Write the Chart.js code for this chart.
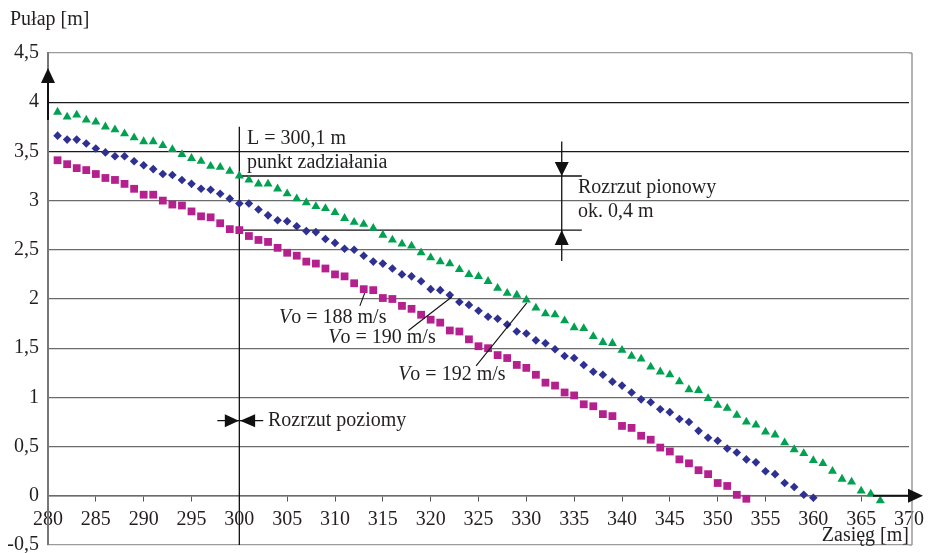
<!DOCTYPE html>
<html>
<head>
<meta charset="utf-8">
<script src="https://cdn.jsdelivr.net/npm/chart.js@4.4.0/dist/chart.umd.min.js"></script>
<style>
  html, body { margin: 0; padding: 0; background: #fff; }
  #wrap { width: 930px; height: 553px; position: relative; }
</style>
</head>
<body>
<div id="wrap"><canvas id="chart"></canvas></div>
<script>
// Zasięg [m] - every metre from 281 on
const zasieg = [281, 282, 283, 284, 285, 286, 287, 288, 289, 290, 291, 292, 293, 294, 295, 296, 297, 298, 299, 300,
  301, 302, 303, 304, 305, 306, 307, 308, 309, 310, 311, 312, 313, 314, 315, 316, 317, 318, 319, 320,
  321, 322, 323, 324, 325, 326, 327, 328, 329, 330, 331, 332, 333, 334, 335, 336, 337, 338, 339, 340,
  341, 342, 343, 344, 345, 346, 347, 348, 349, 350, 351, 352, 353, 354, 355, 356, 357, 358, 359, 360,
  361, 362, 363, 364, 365, 366, 367];

// Pułap [m] for Vo = 192 m/s (green triangles)
const pulap192 = [3.90, 3.85, 3.87, 3.82, 3.80, 3.75, 3.72, 3.68, 3.64, 3.60, 3.60, 3.56, 3.52, 3.47, 3.43, 3.40, 3.35, 3.34, 3.30, 3.25,
  3.21, 3.17, 3.17, 3.12, 3.07, 3.02, 2.98, 2.94, 2.92, 2.88, 2.82, 2.78, 2.76, 2.72, 2.65, 2.60, 2.56, 2.54, 2.47, 2.42,
  2.38, 2.36, 2.30, 2.25, 2.23, 2.18, 2.11, 2.06, 2.04, 1.99, 1.91, 1.85, 1.84, 1.78, 1.71, 1.70, 1.62, 1.56, 1.55, 1.48,
  1.42, 1.39, 1.31, 1.26, 1.23, 1.16, 1.08, 1.07, 0.99, 0.92, 0.89, 0.82, 0.75, 0.72, 0.65, 0.62, 0.54, 0.47, 0.43, 0.36,
  0.33, 0.25, 0.17, 0.14, 0.05, 0.02, -0.05];

// Vo = 190 m/s (blue diamonds)
const pulap190 = [3.66, 3.62, 3.62, 3.58, 3.53, 3.49, 3.45, 3.45, 3.40, 3.36, 3.32, 3.27, 3.26, 3.21, 3.17, 3.12, 3.11, 3.07, 3.02, 2.97,
  2.97, 2.91, 2.85, 2.80, 2.79, 2.74, 2.69, 2.68, 2.61, 2.57, 2.51, 2.50, 2.44, 2.38, 2.36, 2.31, 2.25, 2.23, 2.18, 2.10,
  2.09, 2.04, 1.97, 1.94, 1.88, 1.82, 1.80, 1.74, 1.67, 1.65, 1.58, 1.55, 1.49, 1.42, 1.40, 1.33, 1.26, 1.23, 1.16, 1.12,
  1.05, 0.98, 0.95, 0.88, 0.85, 0.78, 0.75, 0.66, 0.59, 0.56, 0.48, 0.44, 0.37, 0.34, 0.25, 0.22, 0.13, 0.09, 0.01, -0.02];

// Vo = 188 m/s (magenta squares)
const pulap188 = [3.41, 3.37, 3.33, 3.31, 3.27, 3.23, 3.21, 3.17, 3.12, 3.06, 3.06, 3.00, 2.96, 2.95, 2.89, 2.84, 2.83, 2.77, 2.71, 2.70,
  2.64, 2.60, 2.58, 2.52, 2.47, 2.44, 2.38, 2.36, 2.31, 2.25, 2.23, 2.16, 2.10, 2.09, 2.01, 2.00, 1.93, 1.90, 1.84, 1.79,
  1.76, 1.68, 1.67, 1.59, 1.52, 1.50, 1.43, 1.40, 1.33, 1.30, 1.23, 1.15, 1.12, 1.05, 1.02, 0.93, 0.91, 0.83, 0.81, 0.71,
  0.69, 0.61, 0.57, 0.49, 0.45, 0.37, 0.33, 0.26, 0.22, 0.13, 0.10, 0.01, -0.03];

const seriesLabels = ['Vo = 192 m/s', 'Vo = 190 m/s', 'Vo = 188 m/s'];

const FONT = '"Liberation Serif", "DejaVu Serif", serif';
const INK = '#231f20';

function toPoints(ys) {
  return ys.map((y, i) => ({ x: zasieg[i], y: y }));
}

function tri(ctx, tipX, tipY, dir, len, half) {
  ctx.beginPath();
  ctx.moveTo(tipX, tipY);
  if (dir === 'up') { ctx.lineTo(tipX - half, tipY + len); ctx.lineTo(tipX + half, tipY + len); }
  if (dir === 'down') { ctx.lineTo(tipX - half, tipY - len); ctx.lineTo(tipX + half, tipY - len); }
  if (dir === 'right') { ctx.lineTo(tipX - len, tipY - half); ctx.lineTo(tipX - len, tipY + half); }
  if (dir === 'left') { ctx.lineTo(tipX + len, tipY - half); ctx.lineTo(tipX + len, tipY + half); }
  ctx.closePath();
  ctx.fill();
}

function line(ctx, x1, y1, x2, y2) {
  ctx.beginPath();
  ctx.moveTo(x1, y1);
  ctx.lineTo(x2, y2);
  ctx.stroke();
}

// Vo label: italic V followed by upright rest
function voLabel(ctx, text, x, y) {
  ctx.font = 'italic 20px ' + FONT;
  ctx.fillText('V', x, y);
  const w = ctx.measureText('V').width;
  ctx.font = '20px ' + FONT;
  ctx.fillText(text.slice(1), x + w, y);
}

const annotations = {
  id: 'annotations',
  beforeDatasetsDraw(chart) {
    const ctx = chart.ctx;
    const px = v => chart.scales.x.getPixelForValue(v);
    const py = v => chart.scales.y.getPixelForValue(v);
    const area = chart.chartArea;
    ctx.save();
    // right frame
    ctx.strokeStyle = '#9a9a9a';
    ctx.lineWidth = 1.5;
    line(ctx, area.right + 3, area.top, area.right + 3, area.bottom);
    line(ctx, area.right, area.top, area.right + 3, area.top);
    line(ctx, area.right, area.bottom, area.right + 3, area.bottom);

    ctx.strokeStyle = '#111';
    ctx.lineWidth = 1.3;
    // punkt zadziałania
    line(ctx, px(300), py(3.75), px(300), area.bottom);
    line(ctx, px(300), py(3.25), px(335.8), py(3.25));
    line(ctx, px(300), py(2.70), px(335.8), py(2.70));
    ctx.restore();
  },
  afterDatasetsDraw(chart) {
    const ctx = chart.ctx;
    const px = v => chart.scales.x.getPixelForValue(v);
    const py = v => chart.scales.y.getPixelForValue(v);
    const area = chart.chartArea;
    ctx.save();
    ctx.fillStyle = '#111';
    ctx.strokeStyle = '#111';

    // y axis arrow
    ctx.lineWidth = 2;
    line(ctx, area.left, area.top + 67, area.left, area.top + 25);
    tri(ctx, area.left, area.top + 15, 'up', 15, 7);
    // x axis arrow
    const y0 = py(0);
    line(ctx, area.right - 36, y0, area.right, y0);
    tri(ctx, area.right + 14, y0, 'right', 15, 7);

    // Rozrzut pionowy
    ctx.lineWidth = 1.3;
    const xa = px(333.7);
    line(ctx, xa, py(3.6), xa, py(2.385));
    tri(ctx, xa, py(3.25), 'down', 14, 7);
    tri(ctx, xa, py(2.70), 'up', 15, 7);

    // Rozrzut poziomy
    const yh = py(0.763);
    line(ctx, px(297.7), yh, px(302.5), yh);
    tri(ctx, px(300) - 0.5, yh, 'right', 14, 6.5);
    tri(ctx, px(300) + 0.8, yh, 'left', 15, 6.5);

    // leader lines
    ctx.lineWidth = 1.1;
    line(ctx, px(312.6), py(1.93), px(313.1), py(2.06));
    line(ctx, px(317.67), py(1.68), px(322.2), py(2.02));
    line(ctx, px(324.75), py(1.32), px(330.05), py(1.96));

    // texts
    ctx.fillStyle = INK;
    ctx.textAlign = 'left';
    ctx.textBaseline = 'middle';
    ctx.font = '20px ' + FONT;
    ctx.fillText('L = 300,1 m', px(300.8), py(3.63));
    ctx.fillText('punkt zadziałania', px(300.8), py(3.385));
    ctx.fillText('Rozrzut pionowy', px(335.4), py(3.13));
    ctx.fillText('ok. 0,4 m', px(335.4), py(2.89));
    ctx.fillText('Rozrzut poziomy', px(303.0), yh);

    voLabel(ctx, seriesLabels[2], px(304.15), py(1.814));
    voLabel(ctx, seriesLabels[1], px(309.3), py(1.61));
    voLabel(ctx, seriesLabels[0], px(316.6), py(1.226));

    // axis titles
    ctx.font = '20px ' + FONT;
    ctx.fillText('Pułap [m]', 10, 20);
    ctx.textAlign = 'right';
    ctx.fillText('Zasięg [m]', area.right, area.bottom - 9);
    ctx.restore();
  }
};

new Chart(document.getElementById('chart'), {
  type: 'scatter',
  data: {
    datasets: [
      {
        label: seriesLabels[0],
        data: toPoints(pulap192),
        pointStyle: 'triangle',
        pointRadius: 5.2,
        backgroundColor: '#00a150',
        borderColor: '#00a150',
        borderWidth: 0
      },
      {
        label: seriesLabels[1],
        data: toPoints(pulap190),
        pointStyle: 'rectRot',
        pointRadius: 4.3,
        backgroundColor: '#2e3192',
        borderColor: '#2e3192',
        borderWidth: 0
      },
      {
        label: seriesLabels[2],
        data: toPoints(pulap188),
        pointStyle: 'rect',
        pointRadius: 5.5,
        backgroundColor: '#b5208f',
        borderColor: '#b5208f',
        borderWidth: 0
      }
    ]
  },
  options: {
    responsive: true,
    maintainAspectRatio: false,
    animation: false,
    layout: { padding: { left: 0, top: 53, right: 21, bottom: 8 } },
    plugins: {
      legend: { display: false },
      tooltip: { enabled: false }
    },
    scales: {
      x: {
        type: 'linear',
        position: { y: 0 },
        min: 280,
        max: 370,
        afterFit: function(scale) {
          scale.paddingLeft = 0;
          scale.paddingRight = 0;
        },
        ticks: {
          stepSize: 5,
          autoSkip: false,
          maxRotation: 0,
          padding: 7,
          color: INK,
          font: { family: FONT, size: 20 }
        },
        grid: {
          drawOnChartArea: false,
          drawTicks: true,
          tickLength: 5,
          color: '#555'
        },
        border: { color: '#6b6b6b', width: 1.5 }
      },
      y: {
        type: 'linear',
        min: -0.5,
        max: 4.5,
        afterFit: function(scale) {
          scale.width = 48;
          scale.paddingTop = 0;
          scale.paddingBottom = 0;
        },
        ticks: {
          stepSize: 0.5,
          padding: 9,
          color: INK,
          font: { family: FONT, size: 20 },
          callback: function(value) {
            return String(value).replace('.', ',');
          }
        },
        grid: {
          drawTicks: false,
          lineWidth: 1.3,
          color: function(ctx) {
            const v = ctx.tick ? ctx.tick.value : 0;
            if (v === 4.5 || v === -0.5) return '#9a9a9a';
            if (v === 4 || v === 3.5) return '#1a1a1a';
            return '#6b6b6b';
          }
        },
        border: { color: '#777', width: 2 }
      }
    }
  },
  plugins: [annotations]
});
</script>
</body>
</html>
